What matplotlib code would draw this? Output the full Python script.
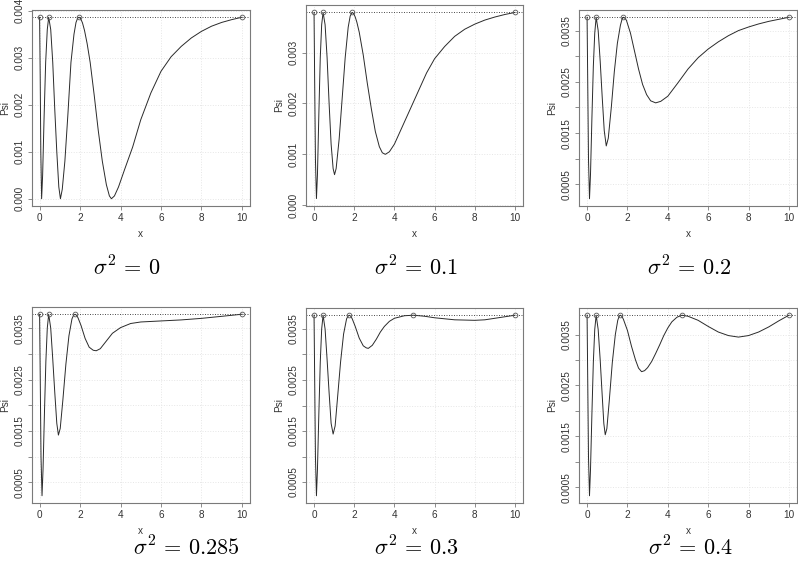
import numpy as np
import matplotlib
matplotlib.use("Agg")
import matplotlib.pyplot as plt
from matplotlib.ticker import FixedLocator, FixedFormatter

plt.rcParams['font.family'] = ['Liberation Sans', 'DejaVu Sans']
plt.rcParams['mathtext.fontset'] = 'cm'

# sigma^2 values shown under each panel
sigma_labels = ["0", "0.1", "0.2", "0.285", "0.3", "0.4"]

# Psi curves (x, Psi * 1e3)
x_s0 = [0, 0.03, 0.06, 0.10, 0.15, 0.22, 0.30, 0.38, 0.45, 0.55, 0.65, 0.75, 0.85, 0.95, 1.03,
        1.12, 1.25, 1.40, 1.55, 1.70, 1.80, 1.88, 1.95, 2.03, 2.12, 2.22, 2.35, 2.50, 2.70, 2.90,
        3.10, 3.30, 3.45, 3.55, 3.70, 3.90, 4.20, 4.60, 5.00, 5.50, 6.00, 6.50, 7.00, 7.50, 8.00,
        8.50, 9.00, 9.50, 10.0]
psi_s0 = [3.86, 2.6, 1.0, 0.0, 0.5, 1.7, 2.9, 3.6, 3.86, 3.6, 2.9, 1.9, 1.0, 0.25, 0.0,
          0.2, 0.8, 1.8, 2.9, 3.5, 3.75, 3.84, 3.86, 3.83, 3.74, 3.58, 3.3, 2.9, 2.2, 1.45,
          0.8, 0.3, 0.06, 0.0, 0.06, 0.25, 0.62, 1.1, 1.68, 2.25, 2.71, 3.02, 3.24, 3.42, 3.56,
          3.67, 3.75, 3.81, 3.86]

x_s1 = [0, 0.03, 0.07, 0.12, 0.17, 0.24, 0.31, 0.38, 0.45, 0.55, 0.65, 0.75, 0.85, 0.95, 1.02,
        1.10, 1.25, 1.40, 1.55, 1.70, 1.80, 1.90, 1.97, 2.05, 2.13, 2.25, 2.45, 2.65, 2.85, 3.05,
        3.25, 3.40, 3.55, 3.75, 4.00, 4.40, 4.80, 5.20, 5.60, 6.00, 6.50, 7.00, 7.50, 8.00, 8.50,
        9.00, 9.50, 10.0]
psi_s1 = [3.79, 2.5, 0.9, 0.13, 0.6, 1.8, 2.9, 3.55, 3.79, 3.55, 2.9, 2.0, 1.2, 0.72, 0.6,
          0.72, 1.3, 2.1, 2.9, 3.5, 3.72, 3.79, 3.77, 3.7, 3.6, 3.4, 2.95, 2.4, 1.9, 1.45,
          1.15, 1.03, 1.0, 1.05, 1.2, 1.55, 1.9, 2.25, 2.6, 2.88, 3.12, 3.32, 3.46, 3.56, 3.64,
          3.70, 3.75, 3.79]

x_s2 = [0, 0.03, 0.07, 0.12, 0.17, 0.24, 0.31, 0.38, 0.45, 0.55, 0.65, 0.75, 0.85, 0.95, 1.05,
        1.20, 1.35, 1.50, 1.65, 1.73, 1.80, 1.88, 1.95, 2.15, 2.35, 2.55, 2.75, 2.95, 3.15, 3.40,
        3.65, 4.00, 4.50, 5.00, 5.50, 6.00, 6.50, 7.00, 7.50, 8.00, 8.50, 9.00, 9.50, 10.0]
psi_s2 = [3.76, 2.6, 1.0, 0.22, 0.7, 1.8, 2.8, 3.45, 3.76, 3.5, 2.9, 2.2, 1.55, 1.25, 1.4,
          2.0, 2.7, 3.25, 3.6, 3.72, 3.76, 3.74, 3.7, 3.45, 3.1, 2.75, 2.45, 2.25, 2.13, 2.09,
          2.12, 2.22, 2.48, 2.75, 2.97, 3.14, 3.28, 3.40, 3.50, 3.57, 3.63, 3.68, 3.72, 3.76]

x_s3 = [0, 0.03, 0.07, 0.12, 0.17, 0.24, 0.31, 0.38, 0.45, 0.55, 0.65, 0.75, 0.85, 0.93, 1.02,
        1.15, 1.30, 1.45, 1.60, 1.68, 1.75, 1.83, 1.90, 2.05, 2.25, 2.45, 2.65, 2.80, 3.00, 3.30,
        3.60, 4.00, 4.50, 5.00, 6.00, 7.00, 8.00, 9.00, 10.0]
psi_s3 = [3.77, 2.6, 1.0, 0.24, 0.75, 1.85, 2.85, 3.5, 3.77, 3.5, 2.9, 2.25, 1.65, 1.42, 1.55,
          2.1, 2.8, 3.35, 3.68, 3.75, 3.77, 3.75, 3.7, 3.55, 3.3, 3.13, 3.07, 3.06, 3.1, 3.25,
          3.40, 3.51, 3.59, 3.62, 3.64, 3.66, 3.69, 3.73, 3.77]

x_s4 = [0, 0.03, 0.07, 0.12, 0.17, 0.24, 0.31, 0.38, 0.45, 0.55, 0.65, 0.75, 0.85, 0.95, 1.05,
        1.18, 1.32, 1.47, 1.62, 1.69, 1.75, 1.83, 1.90, 2.05, 2.25, 2.45, 2.60, 2.70, 2.90, 3.10,
        3.30, 3.50, 3.75, 4.00, 4.50, 4.95, 5.50, 6.00, 7.00, 8.00, 8.50, 9.00, 9.50, 10.0]
psi_s4 = [3.77, 2.6, 1.0, 0.23, 0.75, 1.85, 2.85, 3.5, 3.77, 3.5, 2.9, 2.25, 1.65, 1.44, 1.6,
          2.2, 2.85, 3.4, 3.7, 3.75, 3.77, 3.75, 3.7, 3.55, 3.32, 3.17, 3.13, 3.12, 3.18, 3.3,
          3.44, 3.55, 3.65, 3.71, 3.76, 3.77, 3.75, 3.72, 3.68, 3.67, 3.68, 3.71, 3.74, 3.77]

x_s5 = [0, 0.03, 0.07, 0.12, 0.17, 0.24, 0.31, 0.38, 0.45, 0.55, 0.65, 0.75, 0.83, 0.90, 0.98,
        1.10, 1.25, 1.40, 1.52, 1.59, 1.65, 1.72, 1.80, 2.00, 2.20, 2.40, 2.55, 2.70, 2.85, 3.00,
        3.20, 3.40, 3.60, 3.80, 4.00, 4.20, 4.45, 4.70, 5.00, 5.50, 6.00, 6.50, 7.00, 7.50, 8.00,
        8.50, 9.00, 9.50, 10.0]
psi_s5 = [3.88, 2.7, 1.1, 0.33, 0.85, 1.95, 2.95, 3.6, 3.88, 3.6, 3.0, 2.3, 1.75, 1.53, 1.65,
          2.2, 2.95, 3.5, 3.78, 3.86, 3.88, 3.86, 3.8, 3.58, 3.27, 3.0, 2.84, 2.77, 2.79, 2.85,
          2.97, 3.13, 3.30, 3.48, 3.63, 3.75, 3.84, 3.88, 3.86, 3.78, 3.66, 3.55, 3.48, 3.45, 3.48,
          3.55, 3.65, 3.77, 3.88]

# x positions of the circled maxima
peaks = [
    [0, 0.45, 1.95, 10],
    [0, 0.45, 1.90, 10],
    [0, 0.45, 1.80, 10],
    [0, 0.45, 1.75, 10],
    [0, 0.45, 1.75, 4.95, 10],
    [0, 0.45, 1.65, 4.70, 10],
]

xs = [x_s0, x_s1, x_s2, x_s3, x_s4, x_s5]
psis = [psi_s0, psi_s1, psi_s2, psi_s3, psi_s4, psi_s5]

W, H = 798, 573
fig = plt.figure(figsize=(W / 100, H / 100), dpi=100)

# panel boxes in pixels: left, top, right, bottom
boxes = [(31.5, 10, 250, 206), (306, 5, 523, 206), (579, 10, 797, 206),
         (31.5, 307, 250, 503), (306, 308, 523, 503), (579, 308, 797, 503)]
label_pos = [(127, 268), (416, 268), (689, 268), (186, 548), (416, 548), (690, 548)]

edge = '#7a7a7a'
for i in range(6):
    l, t, r, b = boxes[i]
    ax = fig.add_axes([l / W, 1 - b / H, (r - l) / W, (b - t) / H])
    x = np.array(xs[i])
    y = np.array(psis[i]) * 1e-3
    top = y.max()
    ax.plot(x, y, color='#2a2a2a', lw=0.7)
    ax.axhline(top, color='#333333', ls=(0, (1.2, 1.8)), lw=0.6)
    ax.plot(peaks[i], [top] * len(peaks[i]), 'o', mfc='none', mec='#555555', ms=3.4, mew=0.6)
    ax.margins(x=0.04, y=0.04)

    ax.set_xticks([0, 2, 4, 6, 8, 10])
    if i < 2:
        yt = np.arange(0, 0.0041, 0.001) if i == 0 else np.arange(0, 0.0031, 0.001)
        ylab = ["%.3f" % v for v in yt]
    else:
        yt = np.arange(0.0005, 0.0036, 0.0005)
        ylab = ["%.4f" % v if k % 2 == 0 else "" for k, v in enumerate(yt)]
    ax.yaxis.set_major_locator(FixedLocator(yt))
    ax.yaxis.set_major_formatter(FixedFormatter(ylab))
    for lab in ax.get_yticklabels():
        lab.set_rotation(90)
        lab.set_va('center')

    ax.grid(True, color='#e6e6e6', ls=':', lw=0.7)
    for s in ax.spines.values():
        s.set_color(edge)
        s.set_linewidth(0.8)
    ax.tick_params(direction='out', length=3.2, width=0.6, color=edge,
                   labelsize=7.2, labelcolor='#333333', pad=2)
    ax.set_xlabel('x', fontsize=7.2, color='#333333', labelpad=4)
    ax.set_ylabel('Psi', fontsize=7.2, color='#333333', labelpad=3)

    cx, cy = label_pos[i]
    fig.text(cx / W, 1 - cy / H, r'$\sigma^2\,=\,%s$' % sigma_labels[i],
             ha='center', va='center', fontsize=16)

fig.savefig('out.png', dpi=100)
